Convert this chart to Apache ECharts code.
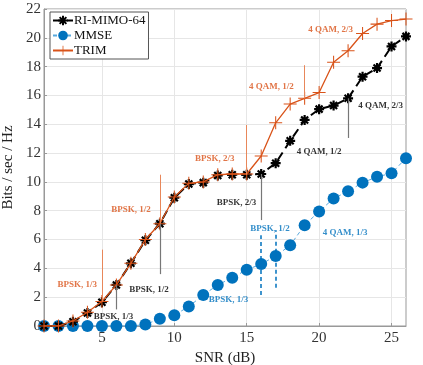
<!DOCTYPE html>
<html>
<head>
<meta charset="utf-8">
<script src="https://cdn.jsdelivr.net/npm/echarts@6/dist/echarts.min.js"></script>
<style>
  html, body { margin: 0; padding: 0; background: #fff; }
  #chart { width: 423px; height: 365px; }
</style>
</head>
<body>
<div id="chart"></div>
<script>
// SNR values (dB)
const snr = [1, 2, 3, 4, 5, 6, 7, 8, 9, 10, 11, 12, 13, 14, 15, 16, 17, 18, 19, 20, 21, 22, 23, 24, 25, 26];

const riMimo = [0, 0, 0.3, 0.9, 1.65, 2.85, 4.35, 5.95, 7.1, 8.9, 9.85, 9.95, 10.45, 10.5, 10.5,
  10.55, 11.3, 12.85, 14.3, 15.05, 15.3, 15.8, 17.3, 17.9, 19.4, 20.1];
const mmse = [0, 0, 0, 0, 0, 0, 0, 0.1, 0.5, 0.75, 1.35, 2.15, 2.85, 3.35, 3.9,
  4.3, 4.85, 5.6, 7.0, 7.95, 8.85, 9.35, 9.95, 10.35, 10.6, 11.65];
const trim = [0, 0, 0.35, 0.95, 1.7, 2.85, 4.35, 6.0, 7.1, 8.95, 9.9, 10.0, 10.5, 10.55, 10.55,
  11.8, 14.1, 15.4, 15.8, 16.2, 18.3, 19.1, 20.3, 20.95, 21.2, 21.3];

const xTicks = [5, 10, 15, 20, 25];

// annotation labels: [x, y, text, colour]
const notes = [
  [3.3, 2.9, 'BPSK, 1/3', '#D95319'],
  [7.0, 8.1, 'BPSK, 1/2', '#D95319'],
  [12.8, 11.6, 'BPSK, 2/3', '#D95319'],
  [16.7, 16.6, '4 QAM, 1/2', '#D95319'],
  [20.8, 20.6, '4 QAM, 2/3', '#D95319'],
  [5.8, 0.65, 'BPSK, 1/3', '#000'],
  [8.25, 2.5, 'BPSK, 1/2', '#000'],
  [14.3, 8.55, 'BPSK, 2/3', '#000'],
  [20.0, 12.1, '4 QAM, 1/2', '#000'],
  [24.25, 15.3, '4 QAM, 2/3', '#000'],
  [13.75, 1.8, 'BPSK, 1/3', '#0072BD'],
  [16.6, 6.75, 'BPSK, 1/2', '#0072BD'],
  [21.8, 6.45, '4 QAM, 1/3', '#0072BD']
];

// pointer lines: [x, yFrom, yTo, kind]
const pointers = [
  [5, 1.7, 5.3, 'o'], [9, 7.1, 10.5, 'o'], [15, 10.5, 13.95, 'o'], [19, 15.8, 18.1, 'o'],
  [6, 2.85, 1.15, 'k'], [9, 7.1, 3.6, 'k'], [16, 10.55, 7.35, 'k'], [22, 15.8, 13.05, 'k'],
  [16, 2.15, 6.3, 'b'], [17, 2.65, 6.65, 'b']
];

const lineStyles = {
  o: { color: '#E8875A', width: 1, type: 'solid' },
  k: { color: '#777', width: 1.2, type: 'solid' },
  b: { color: '#0072BD', width: 1.5, type: [4, 3] }
};

const FONT = '"Liberation Serif", "DejaVu Serif", serif';

const starPath = 'path://M5,0 L5,10 M0,5 L10,5 M1.5,1.5 L8.5,8.5 M8.5,1.5 L1.5,8.5';
const plusPath = 'path://M4.6,0 L5.4,0 L5.4,4.6 L10,4.6 L10,5.4 L5.4,5.4 L5.4,10 L4.6,10 L4.6,5.4 L0,5.4 L0,4.6 L4.6,4.6 Z';

const pair = (ys) => snr.map((x, i) => [x, ys[i]]);

const chart = echarts.init(document.getElementById('chart'));
chart.setOption({
  animation: false,
  textStyle: { fontFamily: FONT },
  grid: { left: 44, right: 17, top: 9, bottom: 39, show: true, borderColor: '#999', borderWidth: 1, outerBoundsMode: 'none' },
  legend: {
    data: ['RI-MIMO-64', 'MMSE', 'TRIM'],
    orient: 'vertical',
    left: 50, top: 12,
    padding: [2, 3, 2, 2],
    itemGap: 2,
    itemWidth: 20, itemHeight: 12,
    borderColor: '#555', borderWidth: 1,
    backgroundColor: '#fff',
    textStyle: { fontFamily: FONT, fontSize: 13, color: '#111', padding: [0, 0, 0, -4] }
  },
  xAxis: {
    type: 'value', min: 1, max: 26,
    name: 'SNR (dB)', nameLocation: 'middle', nameGap: 18,
    nameTextStyle: { fontFamily: FONT, fontSize: 15, color: '#222' },
    axisLine: { show: true, lineStyle: { color: '#999' } },
    axisTick: { show: true, inside: true, length: 3, customValues: xTicks, lineStyle: { color: '#999' } },
    axisLabel: { customValues: xTicks, fontFamily: FONT, fontSize: 15, color: '#333', margin: 5 },
    splitLine: { show: true, lineStyle: { color: '#e6e6e6' } }
  },
  yAxis: {
    type: 'value', min: 0, max: 22, interval: 2,
    name: 'Bits / sec / Hz', nameLocation: 'middle', nameGap: 23,
    nameTextStyle: { fontFamily: FONT, fontSize: 15, color: '#222' },
    axisLine: { show: true, lineStyle: { color: '#999' } },
    axisTick: { show: true, inside: true, length: 3, lineStyle: { color: '#999' } },
    axisLabel: { fontFamily: FONT, fontSize: 15, color: '#333', margin: 3 },
    splitLine: { show: true, lineStyle: { color: '#e6e6e6' } }
  },
  series: [
    {
      name: 'MMSE', type: 'line', data: pair(mmse),
      symbol: 'circle', symbolSize: 12,
      itemStyle: { color: '#0072BD' },
      lineStyle: { color: '#5AA9DD', width: 1, type: [4, 3] },
      z: 2
    },
    {
      name: 'RI-MIMO-64', type: 'line', data: pair(riMimo),
      symbol: starPath, symbolSize: 10,
      itemStyle: { color: '#000', borderColor: '#000', borderWidth: 2.2 },
      lineStyle: { color: '#000', width: 2, type: [9, 5] },
      z: 3
    },
    {
      name: 'TRIM', type: 'line', data: pair(trim),
      symbol: plusPath, symbolSize: 13,
      itemStyle: { color: '#D95319' },
      lineStyle: { color: '#D95319', width: 1.3 },
      z: 4
    },
    {
      name: 'notes', type: 'scatter', symbolSize: 0, silent: true, z: 5,
      data: notes.map(n => ({
        value: [n[0], n[1]],
        label: { show: true, position: 'inside', formatter: n[2], color: n[3],
          fontFamily: FONT, fontSize: 9, fontWeight: 'bold' }
      })),
      markLine: {
        silent: true, symbol: 'none', label: { show: false },
        data: pointers.map(p => [
          { coord: [p[0], p[1]], lineStyle: lineStyles[p[3]] },
          { coord: [p[0], p[2]] }
        ])
      }
    }
  ]
});
</script>
</body>
</html>
